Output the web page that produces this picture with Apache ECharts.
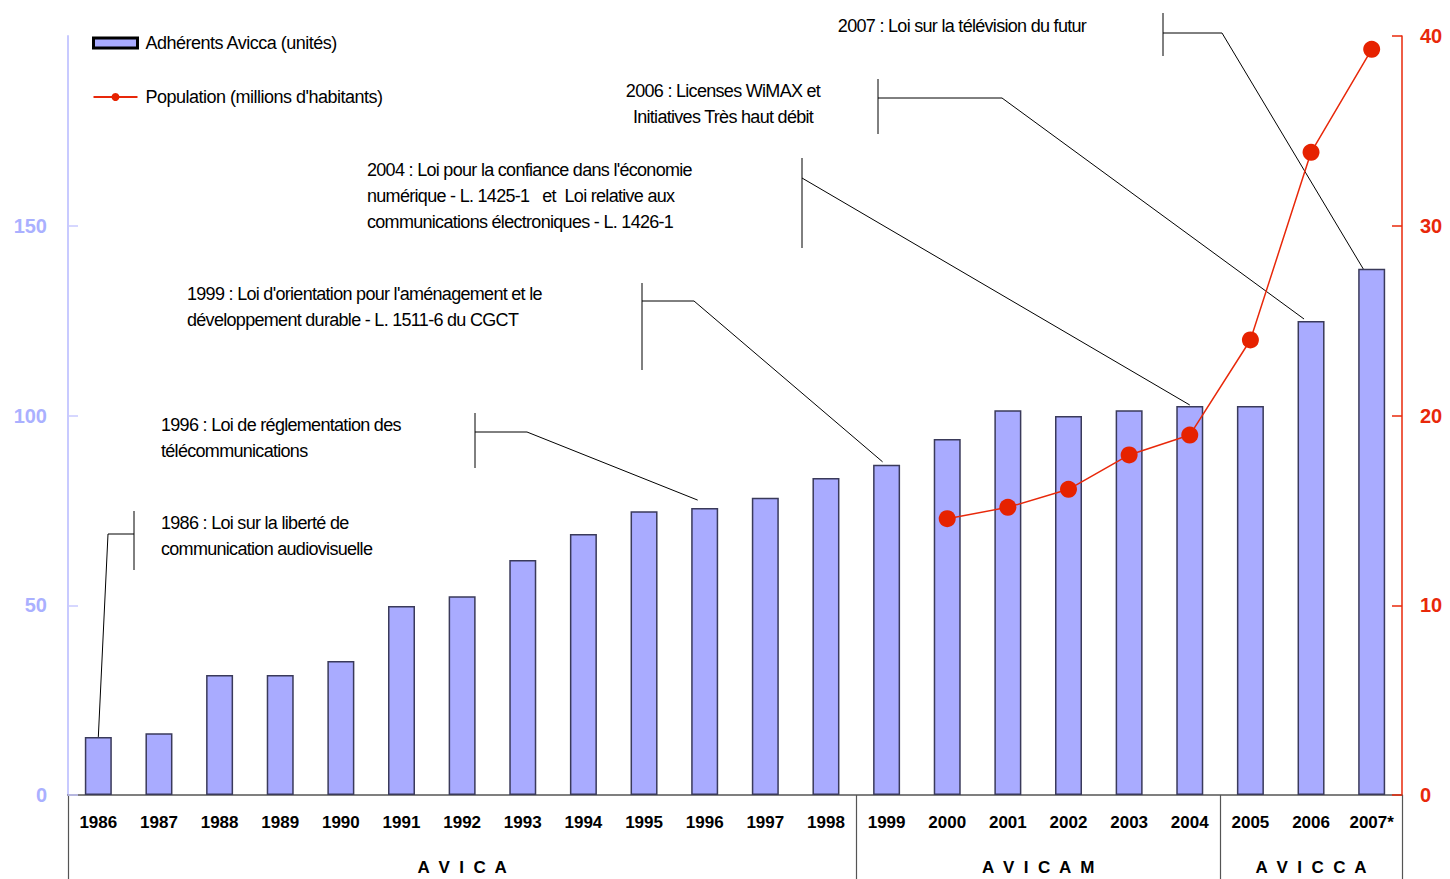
<!DOCTYPE html>
<html><head><meta charset="utf-8">
<script src="https://cdn.jsdelivr.net/npm/echarts@6/dist/echarts.min.js"></script>
<style>html,body{margin:0;padding:0;background:#fff}#c{width:1450px;height:879px}</style>
</head><body><div id="c"></div>
<script>
// ---- data ----
const years = ['1986','1987','1988','1989','1990','1991','1992','1993','1994','1995','1996','1997','1998','1999','2000','2001','2002','2003','2004','2005','2006','2007*'];
const adherents = [15.3,16.3,31.6,31.6,35.3,49.8,52.4,61.9,68.8,74.8,75.6,78.3,83.5,87.0,93.8,101.4,99.9,101.4,102.5,102.5,124.9,138.7];
const population = [null,null,null,null,null,null,null,null,null,null,null,null,null,null,14.56,15.16,16.11,17.92,18.97,23.98,33.87,39.3];
const seriesNames = ['Adhérents Avicca (unités)','Population (millions d\'habitants)'];
const groupNames = ['A  V  I  C  A','A  V  I  C  A  M','A  V  I  C  C  A'];
const groupFirst = ['1986','1999','2005'];
const groupLast = ['1998','2004','2007*'];
const annoYears = ['1986','1996','1999','2004','2006','2007*'];
const annoTexts = [
  '1986 : Loi sur la liberté de\ncommunication audiovisuelle',
  '1996 : Loi de réglementation des\ntélécommunications',
  '1999 : Loi d\'orientation pour l\'aménagement et le\ndéveloppement durable - L. 1511-6 du CGCT',
  '2004 : Loi pour la confiance dans l\'économie\nnumérique - L. 1425-1   et  Loi relative aux\ncommunications électroniques - L. 1426-1',
  '2006 : Licenses WiMAX et\nInitiatives Très haut débit',
  '2007 : Loi sur la télévision du futur'
];

// ---- layout (pixels) for annotation callouts ----
const annoLayout = [
  {tx:161, ty:510, align:'left',  bx:134, by1:511, by2:570, ky:534, kx:108, dx:0,  dy:0},
  {tx:161, ty:412, align:'left',  bx:475, by1:413, by2:468, ky:432, kx:527, dx:-7, dy:-8},
  {tx:187, ty:281, align:'left',  bx:642, by1:283, by2:370, ky:301, kx:694, dx:-4, dy:-3},
  {tx:367, ty:157, align:'left',  bx:802, by1:158, by2:248, ky:178, kx:802, dx:0,  dy:-1},
  {tx:723, ty:78,  align:'center',bx:878, by1:79,  by2:134, ky:98,  kx:1002,dx:-7, dy:-2},
  {tx:962, ty:13,  align:'center',bx:1163,by1:13,  by2:56,  ky:33,  kx:1222,dx:-5, dy:6}
];

const FONT = '"Liberation Sans",Arial,sans-serif';
const chart = echarts.init(document.getElementById('c'), null, {renderer:'svg'});

chart.setOption({
  animation:false,
  backgroundColor:'#fff',
  grid:{left:68,right:48,top:36,bottom:84,containLabel:false},
  legend:{
    orient:'vertical', left:87, top:29, itemGap:36, itemWidth:44, itemHeight:10,
    textStyle:{fontFamily:FONT,fontSize:18,color:'#000',padding:[0,0,0,3]},
    data:[
      {name:seriesNames[0], icon:'rect', itemStyle:{color:'#a9abff',borderColor:'#000',borderWidth:3}},
      {name:seriesNames[1]}
    ]
  },
  xAxis:{
    type:'category', data:years,
    axisLine:{lineStyle:{color:'#555',width:1.5}},
    axisTick:{show:false},
    axisLabel:{color:'#000',fontFamily:FONT,fontWeight:'bold',fontSize:17,margin:19,interval:0}
  },
  yAxis:[
    {type:'value',min:0,max:200,interval:50,position:'left',
     axisLine:{show:true,lineStyle:{color:'#c8caff',width:2}},
     axisTick:{show:true,inside:true,length:10,lineStyle:{color:'#c8caff',width:1.5}},
     axisLabel:{color:'#aab0ff',fontFamily:FONT,fontWeight:'bold',fontSize:20,margin:21,showMaxLabel:false,
       formatter:v=>v===200?'':String(v)},
     splitLine:{show:false}},
    {type:'value',min:0,max:40,interval:10,position:'right',
     axisLine:{show:true,lineStyle:{color:'#e8280a',width:1.5}},
     axisTick:{show:true,inside:true,length:10,lineStyle:{color:'#e8280a',width:1.5}},
     axisLabel:{color:'#e8280a',fontFamily:FONT,fontWeight:'bold',fontSize:20,margin:18},
     splitLine:{show:false}}
  ],
  series:[
    {name:seriesNames[0],type:'bar',data:adherents,barWidth:27,
     itemStyle:{color:'#a9abff',borderColor:'#3a3a5a',borderWidth:1.5}},
    {name:seriesNames[1],type:'line',yAxisIndex:1,data:population,z:5,
     symbol:'circle',symbolSize:17,color:'#e62200',
     lineStyle:{color:'#e8280a',width:1.5},itemStyle:{color:'#e62200'}}
  ]
});

function build(){
  const g = [];
  const band = chart.convertToPixel({xAxisIndex:0}, years[1]) - chart.convertToPixel({xAxisIndex:0}, years[0]);
  const y0 = chart.convertToPixel({yAxisIndex:0}, 0);
  const lineStyle = {stroke:'#000',lineWidth:1};
  const seps = new Set();
  groupFirst.forEach((f,i)=>{
    const xl = chart.convertToPixel({xAxisIndex:0}, f) - band/2;
    const xr = chart.convertToPixel({xAxisIndex:0}, groupLast[i]) + band/2;
    seps.add(Math.round(xl)); seps.add(Math.round(xr));
    g.push({type:'text',x:(xl+xr)/2,y:867,style:{text:groupNames[i],fill:'#000',font:'bold 17px '+FONT,textAlign:'center',textVerticalAlign:'middle'}});
  });
  seps.forEach(x=>{
    g.push({type:'line',shape:{x1:x+0.5,y1:y0,x2:x+0.5,y2:879},style:{stroke:'#555',lineWidth:1.2}});
  });
  annoYears.forEach((yr,i)=>{
    const L = annoLayout[i];
    const idx = years.indexOf(yr);
    const p = chart.convertToPixel({xAxisIndex:0,yAxisIndex:0},[yr, adherents[idx]]);
    const ex = p[0]+L.dx, ey = p[1]+L.dy;
    g.push({type:'text',x:L.tx,y:L.ty,style:{text:annoTexts[i],fill:'#000',font:'18px '+FONT,lineHeight:26,textAlign:L.align,textVerticalAlign:'top'}});
    g.push({type:'line',shape:{x1:L.bx,y1:L.by1,x2:L.bx,y2:L.by2},style:lineStyle});
    g.push({type:'polyline',shape:{points:[[L.bx,L.ky],[L.kx,L.ky],[ex,ey]]},style:Object.assign({fill:null},lineStyle)});
  });
  chart.setOption({graphic:g});
}
build();

// condensed look of the original annotation / legend typeface
function condense(){
  const annoLines = new Set(annoTexts.join('\n').split('\n'));
  document.querySelectorAll('#c svg text').forEach(t=>{
    const s = t.textContent;
    if (annoLines.has(s)) t.setAttribute('letter-spacing','-0.7');
    else if (seriesNames.indexOf(s)>=0) t.setAttribute('letter-spacing','-0.5');
  });
}
condense();
chart.on('finished', condense);
</script></body></html>
